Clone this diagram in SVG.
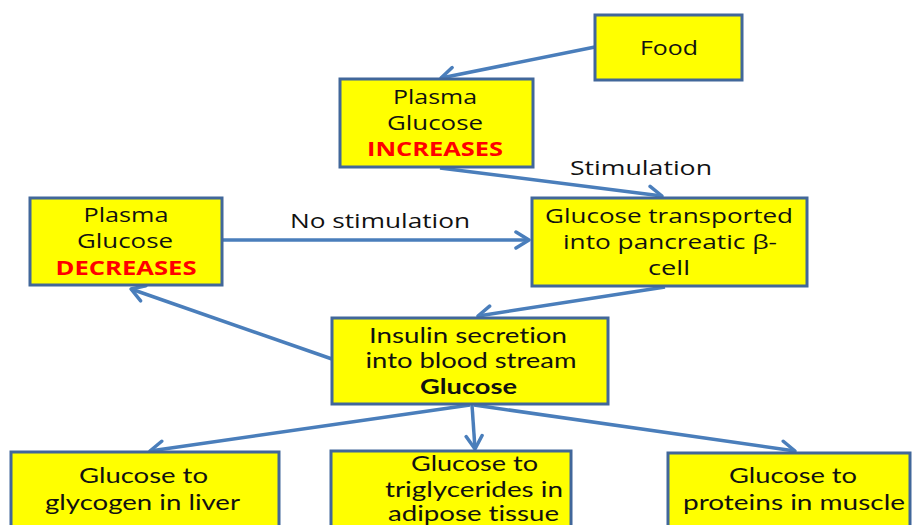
<svg xmlns="http://www.w3.org/2000/svg" width="912" height="525" viewBox="0 0 912 525">
<defs>
<marker id="ah" markerUnits="userSpaceOnUse" markerWidth="20" markerHeight="20" viewBox="0 0 20 20" refX="17" refY="10" orient="auto">
<path d="M4,2 L17,10 L4,18" fill="none" stroke="#4a7ebb" stroke-width="3.5" stroke-linecap="round" stroke-linejoin="round"/>
</marker>
<style>
.box{fill:#ffff00;stroke:#41679a;stroke-width:3}
.t{font-family:"Open Sans","DejaVu Sans",sans-serif;font-size:19.5px;fill:#111;text-anchor:middle;font-variant-ligatures:none}
.c{font-family:Lato,"Open Sans",sans-serif;font-size:21px;fill:#111;text-anchor:middle;font-variant-ligatures:none}
.red{fill:#ff0000;font-weight:bold}
.b{font-weight:bold}
.conn line{stroke:#4a7ebb;stroke-width:3.5;marker-end:url(#ah)}
</style>
</defs>
<rect width="912" height="525" fill="#fff"/>
<g class="conn" id="connectors">
<line x1="595" y1="47" x2="441" y2="78"/>
<line x1="440" y1="168" x2="662" y2="196"/>
<line x1="223" y1="240" x2="529" y2="240"/>
<line x1="665" y1="287" x2="478" y2="316"/>
<line x1="332" y1="359" x2="131" y2="289"/>
<line x1="470" y1="405" x2="150" y2="451"/>
<line x1="472" y1="405" x2="475" y2="449"/>
<line x1="474" y1="405" x2="795" y2="451"/>
</g>
<text class="t" x="641" y="175" textLength="142" lengthAdjust="spacingAndGlyphs">Stimulation</text>
<text class="t" x="380" y="228" textLength="180" lengthAdjust="spacingAndGlyphs">No stimulation</text>
<g id="food"><rect class="box" x="595" y="15" width="147" height="65"/><text class="t" x="669" y="55" textLength="58" lengthAdjust="spacingAndGlyphs">Food</text></g>
<g id="increases"><rect class="box" x="340" y="79" width="193" height="88"/>
<text class="t" x="435" y="104" textLength="84" lengthAdjust="spacingAndGlyphs">Plasma</text>
<text class="t" x="435" y="130" textLength="96" lengthAdjust="spacingAndGlyphs">Glucose</text>
<text class="t red" x="435" y="156" textLength="136" lengthAdjust="spacingAndGlyphs">INCREASES</text></g>
<g id="decreases"><rect class="box" x="30" y="198" width="192" height="87"/>
<text class="t" x="126" y="222" textLength="85" lengthAdjust="spacingAndGlyphs">Plasma</text>
<text class="t" x="125" y="248" textLength="96" lengthAdjust="spacingAndGlyphs">Glucose</text>
<text class="t red" x="126" y="275" textLength="141" lengthAdjust="spacingAndGlyphs">DECREASES</text></g>
<g id="transported"><rect class="box" x="532" y="198" width="275" height="88"/>
<text class="t" x="669" y="223" textLength="248" lengthAdjust="spacingAndGlyphs">Glucose transported</text>
<text class="t" x="670" y="249" textLength="214" lengthAdjust="spacingAndGlyphs">into pancreatic β-</text>
<text class="t" x="669" y="275" textLength="42" lengthAdjust="spacingAndGlyphs">cell</text></g>
<g id="insulin"><rect class="box" x="332" y="318" width="276" height="86"/>
<text class="c" x="468" y="343" textLength="198" lengthAdjust="spacingAndGlyphs">Insulin secretion</text>
<text class="c" x="471" y="368" textLength="211" lengthAdjust="spacingAndGlyphs">into blood stream</text>
<text class="c b" x="468.5" y="394" textLength="97" lengthAdjust="spacingAndGlyphs">Glucose</text></g>
<g id="liver"><rect class="box" x="11" y="452" width="268" height="80"/>
<text class="c" x="143.5" y="483" textLength="129" lengthAdjust="spacingAndGlyphs">Glucose to</text>
<text class="c" x="142.5" y="510" textLength="195" lengthAdjust="spacingAndGlyphs">glycogen in liver</text></g>
<g id="adipose"><rect class="box" x="331" y="451" width="240" height="82"/>
<text class="c" x="474.5" y="471" textLength="127" lengthAdjust="spacingAndGlyphs">Glucose to</text>
<text class="c" x="474" y="497" textLength="178" lengthAdjust="spacingAndGlyphs">triglycerides in</text>
<text class="c" x="473.5" y="521" textLength="171" lengthAdjust="spacingAndGlyphs">adipose tissue</text></g>
<g id="muscle"><rect class="box" x="668" y="453" width="242" height="80"/>
<text class="c" x="793" y="483" textLength="128" lengthAdjust="spacingAndGlyphs">Glucose to</text>
<text class="c" x="794" y="510" textLength="222" lengthAdjust="spacingAndGlyphs">proteins in muscle</text></g>
</svg>
